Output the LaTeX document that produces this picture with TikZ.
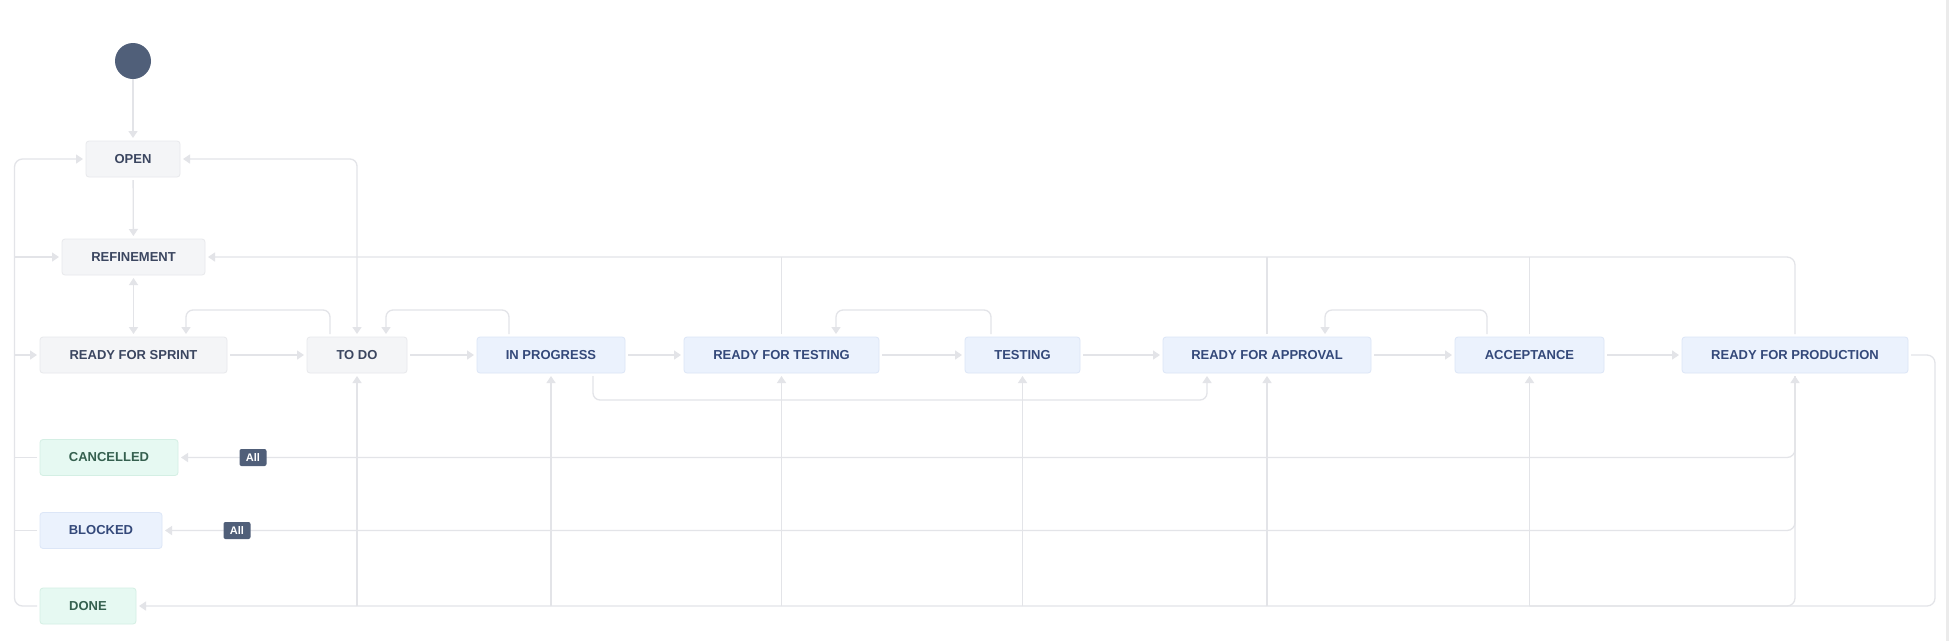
\documentclass[tikz,border=0pt]{standalone}
\usepackage{fontspec}
\setmainfont{Liberation Sans}
\usepackage{tikz}
\usetikzlibrary{arrows.meta}

\definecolor{linegray}{HTML}{E3E4E8}
\definecolor{graybg}{HTML}{F4F5F7}
\definecolor{grayedge}{HTML}{E8E9EC}
\definecolor{graytext}{HTML}{3B4660}
\definecolor{bluebg}{HTML}{EBF2FD}
\definecolor{blueedge}{HTML}{DCE6F7}
\definecolor{bluetext}{HTML}{34497A}
\definecolor{greenbg}{HTML}{E6F9F2}
\definecolor{greenedge}{HTML}{D4EFE4}
\definecolor{greentext}{HTML}{35604F}
\definecolor{slate}{HTML}{505F79}
\definecolor{edgegray}{HTML}{EBEBEB}

\begin{document}
\begin{tikzpicture}[x=1pt,y=-1pt,
    state/.style={rounded corners=3pt, minimum height=36pt, inner sep=0pt, outer sep=3pt,
                  line width=0.8pt, font=\bfseries\fontsize{13}{15}\selectfont},
    todostate/.style={state, fill=graybg, draw=grayedge, text=graytext},
    progstate/.style={state, fill=bluebg, draw=blueedge, text=bluetext},
    donestate/.style={state, fill=greenbg, draw=greenedge, text=greentext},
    startdot/.style={circle, fill=slate, minimum size=36pt, inner sep=0pt},
    allbadge/.style={rounded corners=2pt, fill=slate, text=white, minimum width=27pt,
                     minimum height=17pt, inner sep=0pt, font=\bfseries\fontsize{11}{12}\selectfont},
    flow/.style={draw=linegray, line width=1.3pt},
    arr/.style={flow, -{Triangle[width=9pt,length=7pt]}},
    twoway/.style={flow, {Triangle[width=9pt,length=7pt]}-{Triangle[width=9pt,length=7pt]}}]

    % Page frame
    \useasboundingbox (0,0) rectangle (1949,641);
    \fill[white] (0,0) rectangle (1949,641);
    \fill[edgegray] (1946,0) rectangle (1949,641);

    % Draw the states
    \node[startdot] (start) at (133,61) {};
    \node[todostate, minimum width=94pt] (open) at (133,159) {OPEN};
    \node[todostate, minimum width=143pt] (refine) at (133.5,257) {REFINEMENT};
    \node[todostate, minimum width=187pt] (rfs) at (133.5,355) {READY FOR SPRINT};
    \node[todostate, minimum width=100pt] (todo) at (357,355) {TO DO};
    \node[progstate, minimum width=148pt] (inprog) at (551,355) {IN PROGRESS};
    \node[progstate, minimum width=195pt] (rft) at (781.5,355) {READY FOR TESTING};
    \node[progstate, minimum width=115pt] (testing) at (1022.5,355) {TESTING};
    \node[progstate, minimum width=208pt] (rfa) at (1267,355) {READY FOR APPROVAL};
    \node[progstate, minimum width=149pt] (acc) at (1529.5,355) {ACCEPTANCE};
    \node[progstate, minimum width=226pt] (rfp) at (1795,355) {READY FOR PRODUCTION};
    \node[donestate, minimum width=138pt] (cancelled) at (109,457.5) {CANCELLED};
    \node[progstate, minimum width=122pt] (blocked) at (101,530.5) {BLOCKED};
    \node[donestate, minimum width=96pt] (done) at (88,606) {DONE};

    \coordinate (bus) at (14.5,0);
    \coordinate (rbend) at (1935,0);

    % Main flow
    \draw[arr] (start) -- (open);
    \draw[arr] (open) -- (refine);
    \draw[twoway] (refine) -- (rfs);
    \draw[arr] (rfs) -- (todo);
    \draw[arr] (todo) -- (inprog);
    \draw[arr] (inprog) -- (rft);
    \draw[arr] (rft) -- (testing);
    \draw[arr] (testing) -- (rfa);
    \draw[arr] (rfa) -- (acc);
    \draw[arr] (acc) -- (rfp);

    % Back loops over the row
    \draw[twoway, rounded corners=7pt] (open.east) -| (todo.north);
    \draw[arr, rounded corners=7pt] ([xshift=-27pt]todo.north) -- ++(0,-24) -| ([xshift=52.5pt]rfs.north);
    \draw[arr, rounded corners=7pt] ([xshift=-42pt]inprog.north) -- ++(0,-24) -| ([xshift=29pt]todo.north);
    \draw[arr, rounded corners=7pt] ([xshift=-31.5pt]testing.north) -- ++(0,-24) -| ([xshift=54.5pt]rft.north);
    \draw[arr, rounded corners=7pt] ([xshift=-42.5pt]acc.north) -- ++(0,-24) -| ([xshift=58pt]rfa.north);
    \draw[arr, rounded corners=7pt] ([xshift=42pt]inprog.south) -- ++(0,24) -| ([xshift=-60pt]rfa.south);

    % Back to refinement
    \draw[arr, rounded corners=8pt] (rfp.north) -- (rfp.north |- refine.east) -- (refine.east);
    \foreach \s in {rft,rfa,acc}
        \draw[flow] (\s.north) -- (\s.north |- refine.east);

    % Left bus
    \draw[arr, rounded corners=8pt] (done.west) -- (done.west -| bus) -- (open.west -| bus) -- (open.west);
    \draw[arr] (refine.west -| bus) -- (refine.west);
    \draw[arr] (rfs.west -| bus) -- (rfs.west);
    \draw[flow] (cancelled.west) -- (cancelled.west -| bus);
    \draw[flow] (blocked.west) -- (blocked.west -| bus);

    % Bottom lines
    \draw[arr, rounded corners=8pt] (rfp.east) -- (rfp.east -| rbend) -- (done.east -| rbend) -- (done.east);
    \foreach \s in {todo,inprog,rft,testing,rfa,acc}
        \draw[arr] (\s.south |- done.east) -- (\s.south);
    \draw[arr, rounded corners=8pt] (acc.south |- done.east) -- (rfp.south |- done.east) -- (rfp.south);
    \draw[arr, rounded corners=8pt] (rfp.south) -- (rfp.south |- cancelled.east) -- (cancelled.east);
    \draw[arr, rounded corners=8pt] (rfp.south) -- (rfp.south |- blocked.east) -- (blocked.east);

    % Global transitions
    \node[allbadge] (allcancel) at (253,457.5) {All};
    \node[allbadge] (allblock) at (237,530.5) {All};
\end{tikzpicture}
\end{document}
